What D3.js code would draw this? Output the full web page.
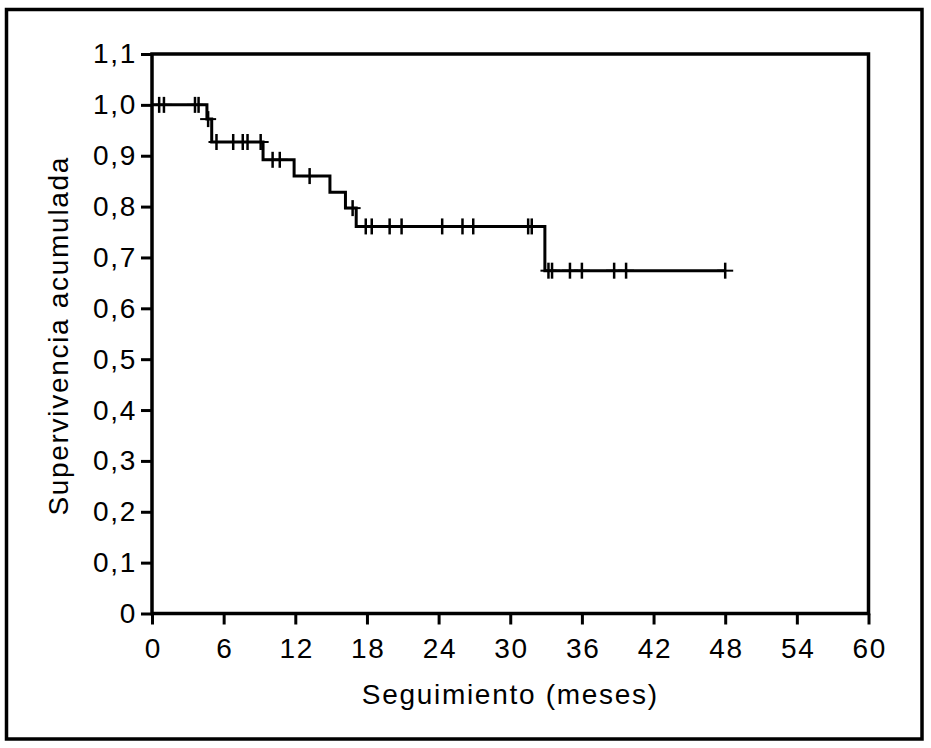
<!DOCTYPE html>
<html>
<head>
<meta charset="utf-8">
<script src="https://cdn.jsdelivr.net/npm/d3@7"></script>
<style>
  html, body { margin: 0; padding: 0; background: #fff; }
  svg { display: block; }
  text { font-family: "Liberation Sans", Arial, Helvetica, sans-serif; fill: #000; }
</style>
</head>
<body>
<svg id="chart" width="931" height="748"></svg>
<script>
// ---- data ----
const xTicks = [0, 6, 12, 18, 24, 30, 36, 42, 48, 54, 60];
const yTicks = [0, 0.1, 0.2, 0.3, 0.4, 0.5, 0.6, 0.7, 0.8, 0.9, 1.0, 1.1];
const yTickLabels = ["0", "0,1", "0,2", "0,3", "0,4", "0,5", "0,6", "0,7", "0,8", "0,9", "1,0", "1,1"];
const xTitle = "Seguimiento (meses)";
const yTitle = "Supervivencia acumulada";

// Kaplan-Meier steps: event times (months) and survival after each step
const stepTimes    = [4.6, 5.0, 9.3, 11.9, 14.9, 16.2, 17.1, 32.9];
const stepSurvival = [0.972, 0.927, 0.892, 0.860, 0.828, 0.797, 0.761, 0.674];
const lastFollowUp = 48.0;
// censored observations (months)
const censorTimes = [0.6, 1.0, 3.6, 3.9, 4.7, 5.4, 6.8, 7.6, 8.0, 9.1, 10.1, 10.7, 13.2, 16.8,
                     17.9, 18.4, 19.9, 20.9, 24.3, 26.0, 26.9, 31.5, 31.8, 33.2, 33.5, 35.0,
                     36.0, 38.7, 39.7, 48.0];

// ---- layout ----
const svg = d3.select("#chart");
const plot = { left: 152, right: 868.5, top: 54, bottom: 613.5 };
const x = d3.scaleLinear().domain([0, 60]).range([plot.left, plot.right]);
const y = d3.scaleLinear().domain([0, 1.1]).range([plot.bottom, plot.top]);

// outer border
svg.append("rect")
  .attr("x", 6.5).attr("y", 9.5).attr("width", 915.5).attr("height", 729.5)
  .attr("fill", "none").attr("stroke", "#000").attr("stroke-width", 3.5);

// axes
const fontSize = 28, ls = "1.7px";
const xAxis = svg.append("g")
  .attr("transform", `translate(0,${plot.bottom})`)
  .call(d3.axisBottom(x).tickValues(xTicks).tickSize(11).tickSizeOuter(0).tickPadding(14)
        .tickFormat(d => String(d)));
const yAxis = svg.append("g")
  .attr("transform", `translate(${plot.left},0)`)
  .call(d3.axisLeft(y).tickValues(yTicks).tickSize(11).tickSizeOuter(0).tickPadding(4)
        .tickFormat((d, i) => yTickLabels[i]));
[xAxis, yAxis].forEach(g => {
  g.select(".domain").remove();
  g.selectAll(".tick line").attr("stroke", "#000").attr("stroke-width", 3);
  g.selectAll(".tick text")
    .attr("font-size", fontSize).attr("letter-spacing", ls)
    .attr("font-family", "'Liberation Sans', Arial, sans-serif").attr("fill", "#000");
});
xAxis.selectAll(".tick text").attr("dx", "0.85px");

// frame
svg.append("rect")
  .attr("x", plot.left).attr("y", plot.top)
  .attr("width", plot.right - plot.left).attr("height", plot.bottom - plot.top)
  .attr("fill", "none").attr("stroke", "#000").attr("stroke-width", 3.5);

// titles
svg.append("text")
  .attr("x", (plot.left + plot.right) / 2).attr("y", 704)
  .attr("text-anchor", "middle").attr("font-size", fontSize).attr("letter-spacing", ls)
  .text(xTitle);
svg.append("text")
  .attr("transform", `translate(68,${(plot.top + plot.bottom) / 2 + 2}) rotate(-90)`)
  .attr("text-anchor", "middle").attr("font-size", fontSize).attr("letter-spacing", ls)
  .text(yTitle);

// survival curve
const pts = [[0, 1]].concat(stepTimes.map((t, i) => [t, stepSurvival[i]]));
pts.push([lastFollowUp, stepSurvival[stepSurvival.length - 1]]);
const line = d3.line().x(d => x(d[0])).y(d => y(d[1])).curve(d3.curveStepAfter);
svg.append("path").attr("d", line(pts))
  .attr("fill", "none").attr("stroke", "#000").attr("stroke-width", 3);

// censor marks
function survAt(t) {
  let s = 1;
  stepTimes.forEach((st, i) => { if (t >= st) s = stepSurvival[i]; });
  return s;
}
const h = 8;
const marks = svg.append("g").attr("stroke", "#000");
censorTimes.forEach(t => {
  const cx = x(t), cy = y(survAt(t));
  marks.append("line").attr("x1", cx).attr("x2", cx).attr("y1", cy - h).attr("y2", cy + h)
    .attr("stroke-width", 2.5);
  marks.append("line").attr("x1", cx - h).attr("x2", cx + h).attr("y1", cy).attr("y2", cy)
    .attr("stroke-width", 2);
});
</script>
</body>
</html>
